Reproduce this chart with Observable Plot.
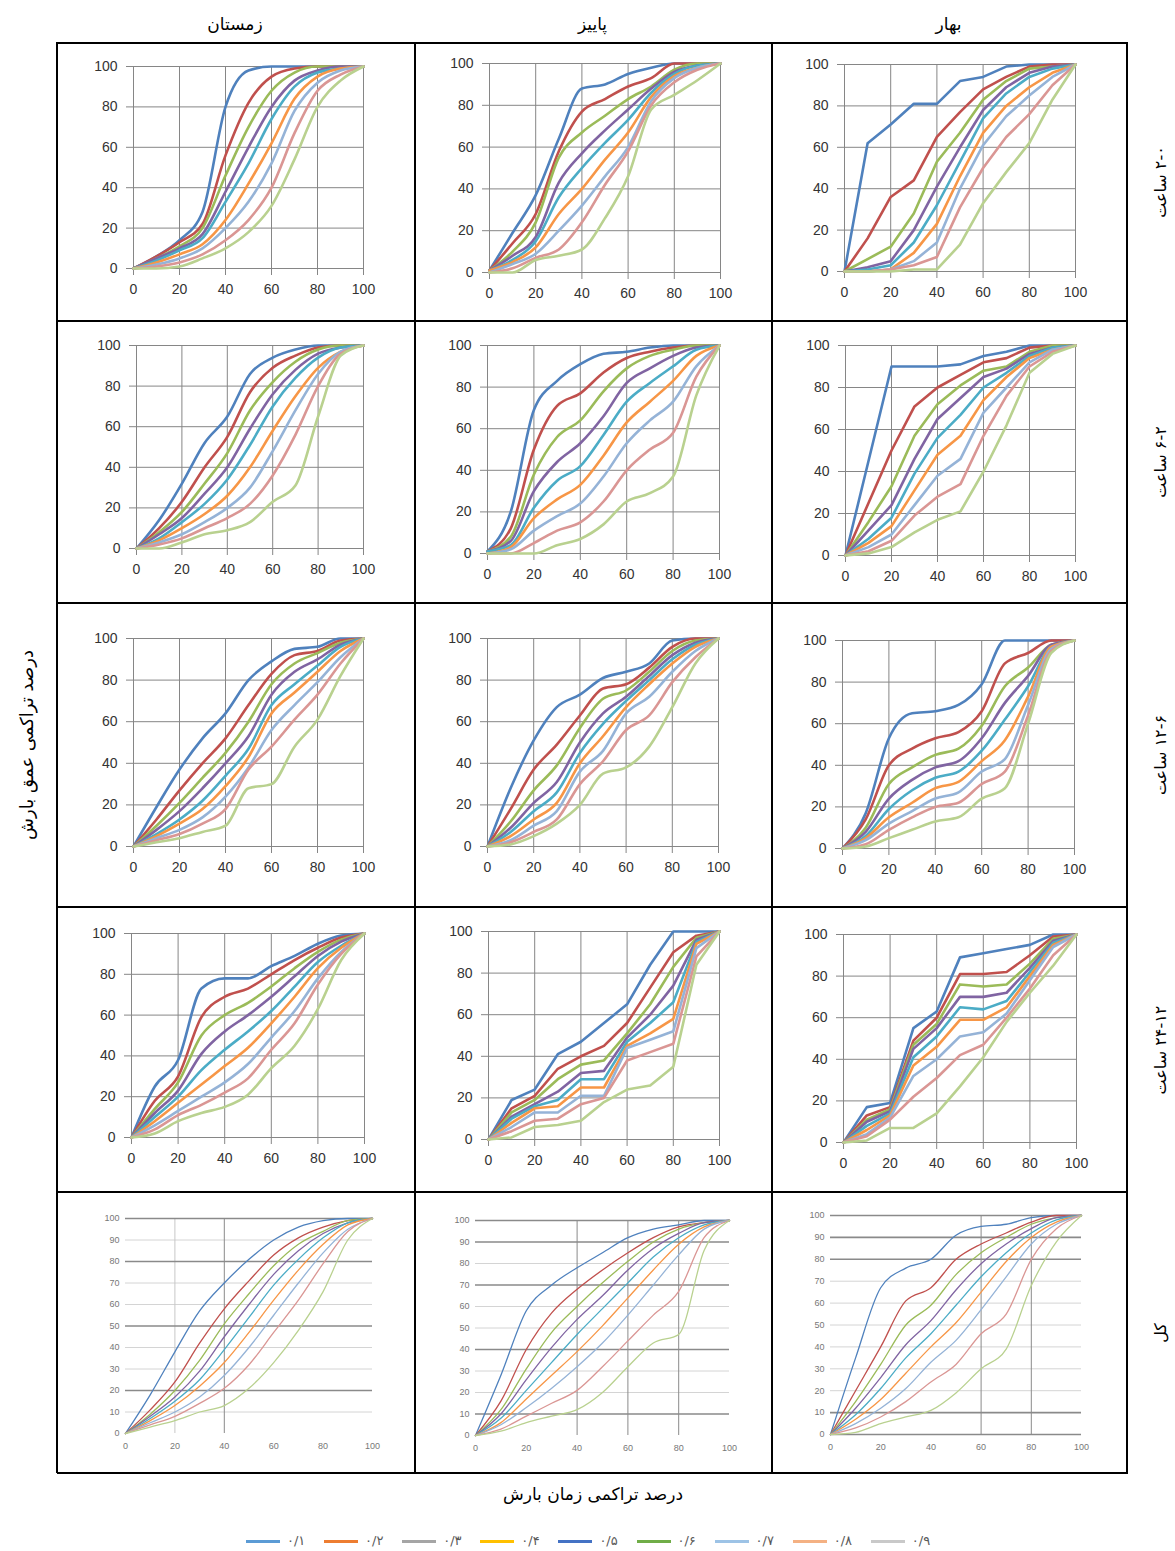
<!DOCTYPE html>
<html><head><meta charset="utf-8">
<script src="https://cdn.jsdelivr.net/npm/d3@7"></script>
<script src="https://cdn.jsdelivr.net/npm/@observablehq/plot@0.6"></script>
<style>
body{margin:0;background:#fff;}
#page{position:relative;width:1175px;height:1551px;background:#fff;overflow:hidden;}
.cell{position:absolute;}
.ln{position:absolute;background:#000;z-index:5;}
.fa{position:absolute;font-family:"DejaVu Sans",sans-serif;font-size:16px;color:#000;direction:rtl;white-space:nowrap;transform:translate(-50%,-50%);}
.rot{transform:translate(-50%,-50%) rotate(-90deg);}
#legend{position:absolute;left:0;top:1531px;width:1175px;height:20px;}
.li{position:absolute;top:0;height:20px;}
.li span.sw{position:absolute;top:9px;left:0;width:34px;height:3px;}
.li span.lb{position:absolute;top:0;left:41px;font-family:"DejaVu Sans",sans-serif;font-size:13px;color:#595959;line-height:20px;}
</style></head><body><div id="page"></div>
<script>
// ---------- data ----------
const xPercent = [0,10,20,30,40,50,60,70,80,90,100];
const seriesLabels = ["۰/۱","۰/۲","۰/۳","۰/۴","۰/۵","۰/۶","۰/۷","۰/۸","۰/۹"];
const seasons = ["زمستان","پاییز","بهار"];
const durations = ["۲-۰ ساعت","۶-۲ ساعت","۱۲-۶ ساعت","۲۴-۱۲ ساعت","کل"];
const yTitle = "درصد تراکمی عمق بارش";
const xTitle = "درصد تراکمی زمان بارش";
const ticks20 = [0,20,40,60,80,100];
const ticks10 = [0,10,20,30,40,50,60,70,80,90,100];

// row 1: 0-2 h
const winter_0to2 = [
  [0,6,14,28,80,98,100,100,100,100,100],
  [0,6,13,22,56,82,95,99,100,100,100],
  [0,5,11,20,46,70,88,97,100,100,100],
  [0,5,10,17,38,60,80,93,98,100,100],
  [0,4,9,15,33,52,74,90,97,99,100],
  [0,3,7,12,24,42,62,84,95,99,100],
  [0,2,5,10,20,33,52,78,92,98,100],
  [0,1,3,7,14,24,40,67,88,96,100],
  [0,0,1,5,10,18,31,54,80,93,100]
];
const autumn_0to2 = [
  [1,19,37,64,88,90,95,98,100,100,100],
  [1,14,28,58,77,83,89,93,100,100,100],
  [1,10,24,55,67,75,83,89,97,100,100],
  [1,8,17,43,57,68,78,88,96,99,100],
  [1,6,15,36,50,62,73,86,95,99,100],
  [1,5,12,28,40,54,67,84,94,98,100],
  [0,4,9,20,32,46,60,82,93,98,100],
  [0,2,7,11,24,42,58,80,91,97,100],
  [0,0,6,8,11,26,46,78,85,92,100]
];
const spring_0to2 = [
  [0,62,71,81,81,92,94,99,100,100,100],
  [0,16,36,44,65,77,88,94,99,100,100],
  [0,6,12,28,53,67,83,92,98,99,100],
  [0,2,5,20,41,60,78,89,96,99,100],
  [0,1,3,14,32,53,74,86,94,98,100],
  [0,0,1,9,23,46,67,80,89,96,100],
  [0,0,1,5,14,40,61,75,85,94,100],
  [0,0,1,3,7,31,50,65,76,90,100],
  [0,0,0,1,1,13,33,48,62,83,100]
];
// row 2: 2-6 h
const winter_2to6 = [
  [0,14,32,52,65,86,94,98,100,100,100],
  [0,10,23,40,55,77,89,95,99,100,100],
  [0,8,18,32,47,68,82,92,98,100,100],
  [0,7,15,27,40,59,76,88,96,99,100],
  [0,5,13,22,34,51,70,84,94,99,100],
  [0,4,10,17,26,40,58,75,89,97,100],
  [0,3,7,13,20,30,48,68,86,97,100],
  [0,2,5,10,15,22,36,56,80,96,100],
  [0,0,3,7,9,13,23,31,65,95,100]
];
const autumn_2to6 = [
  [1,20,69,83,91,96,97,99,100,100,100],
  [1,12,50,71,77,87,94,97,99,100,100],
  [1,8,38,56,64,78,89,95,98,100,100],
  [1,6,30,44,53,66,82,89,95,99,100],
  [1,4,22,35,42,57,73,82,90,98,100],
  [0,3,17,26,33,47,63,73,83,95,100],
  [0,2,11,18,24,37,53,64,73,90,100],
  [0,0,5,11,15,25,40,50,58,85,100],
  [0,0,0,4,7,14,25,29,37,76,100]
];
const spring_2to6 = [
  [0,45,90,90,90,91,95,97,100,100,100],
  [0,25,50,71,80,86,92,94,99,100,100],
  [0,16,33,57,72,81,88,90,97,100,100],
  [0,12,24,46,65,75,85,89,96,99,100],
  [0,8,18,39,56,67,80,87,95,99,100],
  [0,6,14,31,48,57,74,85,94,98,100],
  [0,4,10,24,38,46,68,80,92,98,100],
  [0,2,7,19,28,34,57,76,90,97,100],
  [0,1,4,11,17,21,40,62,87,96,100]
];
// row 3: 6-12 h
const winter_6to12 = [
  [0,19,37,52,64,80,89,95,96,100,100],
  [0,13,27,40,52,68,83,92,94,99,100],
  [0,10,21,33,45,60,78,88,93,98,100],
  [0,8,17,28,40,53,73,84,90,97,100],
  [0,6,13,22,34,47,68,78,87,96,100],
  [0,5,11,18,29,43,64,74,84,94,100],
  [0,4,8,14,24,38,56,68,79,91,100],
  [0,3,6,11,18,37,48,61,73,88,100],
  [0,2,4,7,10,28,30,48,61,82,100]
];
const autumn_6to12 = [
  [0,28,51,67,73,81,84,88,99,100,100],
  [0,18,37,49,63,76,78,86,96,100,100],
  [0,12,27,39,57,71,75,84,94,99,100],
  [0,9,21,31,50,64,72,82,92,98,100],
  [0,7,17,26,45,59,70,80,90,97,100],
  [0,5,13,21,40,53,67,78,88,96,100],
  [0,3,10,17,36,46,64,72,84,94,100],
  [0,2,7,13,30,41,56,63,79,91,100],
  [0,1,5,11,20,35,38,48,67,88,100]
];
const spring_6to12 = [
  [0,17,53,65,66,69,79,100,100,100,100],
  [0,14,40,48,53,56,66,89,94,100,100],
  [0,10,31,39,45,48,59,78,87,98,100],
  [0,8,24,33,39,42,53,70,83,98,100],
  [0,6,19,28,34,37,47,62,78,97,100],
  [0,5,15,22,29,32,42,52,73,97,100],
  [0,4,12,18,24,27,37,43,69,96,100],
  [0,2,9,15,20,22,31,37,64,95,100],
  [0,1,5,9,13,15,24,29,60,94,100]
];
// row 4: 12-24 h
const winter_12to24 = [
  [0,25,38,73,78,78,84,89,95,99,100],
  [0,18,30,59,69,73,80,87,93,98,100],
  [0,14,27,50,60,66,74,83,91,97,100],
  [0,12,23,41,52,60,69,79,89,96,100],
  [0,10,20,33,43,52,62,74,86,94,100],
  [0,8,17,26,35,44,56,69,83,93,100],
  [0,6,13,20,27,36,49,62,78,91,100],
  [0,4,11,16,22,29,43,56,75,90,100],
  [0,2,8,12,15,21,34,45,63,87,100]
];
const autumn_12to24 = [
  [0,19,24,41,47,56,65,84,100,100,100],
  [0,15,21,34,40,45,56,73,90,98,100],
  [0,13,19,29,36,38,51,65,83,97,100],
  [0,11,17,23,32,33,49,60,74,96,100],
  [0,10,16,19,29,29,47,56,66,95,100],
  [0,8,15,16,25,25,45,51,58,94,100],
  [0,6,13,13,21,21,44,48,52,92,100],
  [0,4,9,10,17,20,38,42,46,88,100],
  [0,1,6,7,9,18,24,26,35,84,100]
];
const spring_12to24 = [
  [0,17,19,55,63,89,91,93,95,100,100],
  [0,13,17,49,60,81,81,82,90,99,100],
  [0,11,16,47,57,76,75,76,86,98,100],
  [0,10,15,45,55,70,70,72,84,97,100],
  [0,8,14,41,51,65,64,68,82,96,100],
  [0,6,13,37,46,59,59,65,80,95,100],
  [0,4,12,32,40,51,53,62,78,94,100],
  [0,3,11,22,31,42,47,60,74,90,100],
  [0,1,7,7,14,27,41,58,72,85,100]
];
// row 5: total
const winter_total = [
  [0,18,38,57,70,81,90,96,99,100,100],
  [0,11,24,42,58,71,83,91,96,99,100],
  [0,9,20,34,51,65,78,88,94,99,100],
  [0,8,17,29,45,60,74,85,93,98,100],
  [0,7,15,25,39,54,69,81,91,98,100],
  [0,6,13,22,33,47,62,76,88,97,100],
  [0,5,10,17,27,40,55,70,84,95,100],
  [0,4,8,14,21,32,47,62,79,94,100],
  [0,3,6,10,13,21,33,48,66,90,100]
];
const autumn_total = [
  [0,28,58,70,78,85,92,96,98,100,100],
  [0,16,40,57,68,77,85,92,97,99,100],
  [0,12,31,48,60,71,81,90,96,99,100],
  [0,10,26,41,54,65,77,87,94,99,100],
  [0,8,21,34,47,59,71,83,92,98,100],
  [0,6,17,28,39,51,64,77,89,97,100],
  [0,5,13,22,32,43,56,70,84,96,100],
  [0,3,9,15,21,32,44,56,67,92,100],
  [0,2,6,9,12,20,32,43,47,86,100]
];
const spring_total = [
  [0,35,67,76,80,91,95,96,99,100,100],
  [0,20,40,61,67,80,87,92,97,100,100],
  [0,15,32,50,59,73,83,90,96,99,100],
  [0,12,26,41,52,66,78,87,94,99,100],
  [0,9,21,35,46,59,72,83,92,98,100],
  [0,7,16,28,40,51,65,79,90,97,100],
  [0,5,12,21,33,43,57,72,87,96,100],
  [0,3,8,15,24,32,46,55,80,94,100],
  [0,1,5,8,11,19,30,39,68,88,100]
];

const panelData = [
  [winter_0to2, autumn_0to2, spring_0to2],
  [winter_2to6, autumn_2to6, spring_2to6],
  [winter_6to12, autumn_6to12, spring_6to12],
  [winter_12to24, autumn_12to24, spring_12to24],
  [winter_total, autumn_total, spring_total]
];

// ---------- styles / layout ----------
const chartColors = ["#4F81BD","#C0504D","#9BBB59","#8064A2","#4BACC6","#F79646","#95B3D7","#DA9694","#B9D18F"];
const legendColors = ["#5B9BD5","#ED7D31","#A5A5A5","#FFC000","#4472C4","#70AD47","#9DC3E6","#F4B183","#C9C9C9"];
const colX = [57,415,772], colW = [358,357,355];
const rowY = [42,321,603,907,1192], rowH = [279,282,304,285,281];
// [left, right, top, bottom] margins per cell
const margins = [
  [[76,52,24,53],[74,52,21,49],[72,52,22,50]],
  [[79,52,24,55],[72,53,24,50],[73,52,24,48]],
  [[76,52,35,61],[72,54,35,61],[70,53,37,59]],
  [[74,51,26,55],[73,53,24,53],[71,51,27,50]],
  [[68,43,26,40],[60,43,28,38],[58,46,23,39]]
];
const smooth = [
  [true,true,false],
  [true,true,false],
  [true,true,true],
  [true,false,false],
  [true,true,true]
];
// total-row grid styling (dark / faint lines)
const totalGrid = [
  {darkY:[100,80,50,20], faintY:[90,70,60,40,30,10], darkX:[40], faintX:[20]},
  {darkY:[100,90,70,40,10], faintY:[80,60,50,30,20], darkX:[40,60,80], faintX:[]},
  {darkY:[100,90,80,10,0], faintY:[70,60,50,40,30,20], darkX:[60,80], faintX:[]}
];

const page = document.getElementById("page");
const tickFont = "Liberation Sans, Arial, sans-serif";

function makePanel(r, c) {
  const data = panelData[r][c];
  const rows = [];
  data.forEach((vals, si) => vals.forEach((v, i) => rows.push({x: xPercent[i], y: v, s: seriesLabels[si]})));
  const [ml, mr, mt, mb] = margins[r][c];
  const total = r === 4;
  const marks = [];
  if (!total) {
    marks.push(Plot.gridX(ticks20, {stroke: "#868686", strokeOpacity: 1, strokeWidth: 1}));
    marks.push(Plot.gridY(ticks20, {stroke: "#868686", strokeOpacity: 1, strokeWidth: 1}));
    marks.push(Plot.axisX(ticks20, {label: null, tickSize: 7, tickPadding: 9, stroke: "#868686", fill: "#333", fontSize: 14, fontFamily: tickFont}));
    marks.push(Plot.axisY(ticks20, {label: null, tickSize: 7, tickPadding: 9, stroke: "#868686", fill: "#333", fontSize: 14, fontFamily: tickFont}));
  } else {
    const g = totalGrid[c];
    marks.push(Plot.gridY(g.faintY, {stroke: "#d4d4d4", strokeOpacity: 1, strokeWidth: 1}));
    if (g.faintX.length) marks.push(Plot.gridX(g.faintX, {stroke: "#c8c8c8", strokeOpacity: 1, strokeWidth: 1}));
    marks.push(Plot.gridX(g.darkX, {stroke: "#8a8a8a", strokeOpacity: 1, strokeWidth: 1}));
    marks.push(Plot.gridY(g.darkY, {stroke: "#8a8a8a", strokeOpacity: 1, strokeWidth: 1.6}));
    marks.push(Plot.axisX(ticks20, {label: null, tickSize: 0, tickPadding: 9, fill: "#777", fontSize: 9, fontFamily: tickFont}));
    marks.push(Plot.axisY(ticks10, {label: null, tickSize: 0, tickPadding: 6, fill: "#777", fontSize: 9, fontFamily: tickFont}));
  }
  marks.push(Plot.line(rows, {
    x: "x", y: "y", z: "s", stroke: "s",
    strokeWidth: total ? 1.3 : 2.6,
    curve: smooth[r][c] ? "monotone-x" : "linear",
    strokeLinejoin: "round"
  }));
  const svg = Plot.plot({
    width: colW[c], height: rowH[r],
    marginLeft: ml, marginRight: mr, marginTop: mt, marginBottom: mb,
    x: {domain: [0, 100], axis: null, label: null},
    y: {domain: [0, 100], axis: null, label: null},
    color: {domain: seriesLabels, range: chartColors},
    style: {background: "transparent", overflow: "visible"},
    marks
  });
  const div = document.createElement("div");
  div.className = "cell";
  div.style.left = colX[c] + "px";
  div.style.top = rowY[r] + "px";
  div.appendChild(svg);
  page.appendChild(div);
}

for (let r = 0; r < 5; r++) for (let c = 0; c < 3; c++) makePanel(r, c);

// table lines
function line(x, y, w, h) {
  const d = document.createElement("div");
  d.className = "ln";
  Object.assign(d.style, {left: x + "px", top: y + "px", width: w + "px", height: h + "px"});
  page.appendChild(d);
}
const tL = 57, tT = 42, tR = 1127, tB = 1473;
line(tL, tT, tR - tL, 2); line(tL, tB - 1, tR - tL, 2);
line(tL - 1, tT, 2, tB - tT); line(tR - 1, tT, 2, tB - tT + 1);
[415, 772].forEach(x => line(x - 1, tT, 2, tB - tT));
[321, 603, 907, 1192].forEach(y => line(tL, y - 1, tR - tL, 2));

// text labels
function label(text, x, y, rot, size) {
  const d = document.createElement("div");
  d.className = "fa" + (rot ? " rot" : "");
  d.textContent = text;
  d.style.left = x + "px"; d.style.top = y + "px";
  if (size) d.style.fontSize = size + "px";
  page.appendChild(d);
}
seasons.forEach((s, i) => label(s, colX[i] + colW[i] / 2 - 1, 24, false, 17));
durations.forEach((s, i) => label(s, 1160, rowY[i] + rowH[i] / 2, true));
label(yTitle, 26, 745, true, 18);
label(xTitle, 593, 1494, false, 17);

// legend
const leg = document.createElement("div");
leg.id = "legend";
seriesLabels.forEach((s, i) => {
  const it = document.createElement("div");
  it.className = "li";
  it.style.left = (246 + i * 78.1) + "px";
  const sw = document.createElement("span");
  sw.className = "sw"; sw.style.background = legendColors[i];
  const lb = document.createElement("span");
  lb.className = "lb"; lb.textContent = s;
  it.appendChild(sw); it.appendChild(lb);
  leg.appendChild(it);
});
page.appendChild(leg);
</script></body></html>
